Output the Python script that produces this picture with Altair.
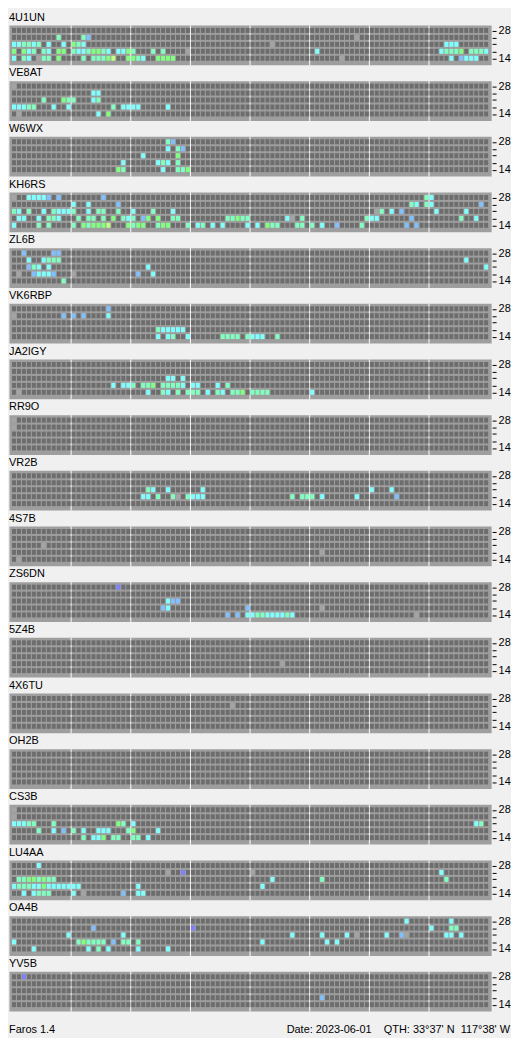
import altair as alt
import pandas as pd

# ---------------- data ----------------
STATIONS = ["4U1UN", "VE8AT", "W6WX", "KH6RS", "ZL6B", "VK6RBP", "JA2IGY", "RR9O",
            "VR2B", "4S7B", "ZS6DN", "5Z4B", "4X6TU", "OH2B", "CS3B", "LU4AA",
            "OA4B", "YV5B"]
BAND_LABELS = ["28", "", "", "", "14"]          # rows from top to bottom
N_SLOTS = 96                                    # 15-minute slots over 24 h
SEPARATORS = [12, 24, 36, 48, 60, 72, 84]       # 3-hour boundaries

# signal level codes -> colours
LEVELS = ["0", "g", "P", "B", "C", "A", "G", "Y"]
LEVEL_COLORS = ["#6d6d6d", "#a4a4a4", "#8080ff", "#80c0ff", "#80ffff",
                "#80ffc0", "#80ff80", "#c0ff80"]

# each station: rows 28, 24, 21, 18, 14 MHz ; tokens "slot+level"
S_4U1UN = [
    "",
    "9A 14A 15B 69g",
    "0C 1C 2A 3A 4C 5A 7C 10C 12G 13A 14C 52g 87C 88C 89C",
    "0G 2G 3C 4A 6A 7C 9G 10G 12A 13C 14C 15A 16G 17G 18A 19C 21C 22C 23G 24A 28A 30A 35g 61C 86C 87A 88A 89A 90G 92A 93A 94A 95C",
    "0C 2A 3C 5g 6A 7A 9G 14A 16A 17A 18A 19G 20Y 23G 24G 25A 26C 29G 30G 31G 32G 66g 88C 90B 91C 92C 93C",
]
S_VE8AT = [
    "0g",
    "16C 17C",
    "6A 10G 11A 12A 16C 17A",
    "0C 1C 2C 3A 4A 8C 11C 20A 22C 23C 24C 25C 31C",
    "1g 17C 19G",
]
S_W6WX = [
    "31A 32B",
    "31C 33A 34B",
    "26C 33G",
    "22C 29C 30A 31C 33A",
    "21G 22A 30C 33A 34A 35G",
]
S_KH6RS = [
    "0g 3C 4C 5C 6C 7B 9B 18B 83A 84C",
    "12C 15C 21B 80A 81C 83A 84C 94B",
    "0A 1C 3A 6C 8A 9C 10C 11C 12A 15C 17A 18A 21A 24C 28A 32C 73g 74A 76C 78B 85C 91C",
    "1C 2C 5C 7A 8A 9C 13A 15A 16A 18A 20G 22A 23C 24A 26B 27G 29G 32A 33A 43A 44A 45G 46A 47A 55C 56g 58A 71A 72C 73C 80B 90A 93C",
    "0C 5A 7A 12A 14G 15A 16G 17G 18G 19Y 23G 24A 25G 26G 29A 30G 31G 35A 37C 38A 40C 42C 47C 49C 51G 52A 53A 57A 58A 60A 62C 65B 70A 79B 81B",
]
S_ZL6B = [
    "2B 8B 9B",
    "3C 6C 7A 8A 9A 91C",
    "3B 4A 5C 7C 27C 95C",
    "1g 4B 5C 6C 7C 8B 12g 25B 28C",
    "10A",
]
S_VK6RBP = [
    "19B",
    "0g 10B 12B 14B 19C",
    "",
    "29A 30C 31C 32C 33C 34C",
    "29C 31C 32A 35C 42A 43A 44A 45A 47A 48C 49C 50C 53A",
]
S_JA2IGY = [
    "",
    "",
    "31C 32C 34C",
    "20C 22C 23C 24A 26A 27A 28G 30A 31A 32A 33A 34C 36C 37C 41C 43A",
    "1g 27C 30A 31C 33A 35A 36A 37A 39C 41A 42C 44A 45A 46G 48A 49A 50A 51A 60C",
]
S_RR9O = ["0g", "0g", "", "", ""]
S_VR2B = [
    "",
    "",
    "27A 28C 31C 38C 72C 76C",
    "26C 27C 29A 32A 33g 35A 36C 37C 38C 56A 58A 59A 60A 62C 69C 77B",
    "",
]
S_4S7B = ["", "", "6g", "62g", "1g"]
S_ZS6DN = [
    "21P",
    "",
    "31C 32B 33B",
    "30B 31C 47B 62g",
    "43B 45B 47C 48C 49A 50A 51C 52C 53C 54C 55A 56C 81g",
]
S_5Z4B = ["", "", "", "54g", ""]
S_4X6TU = ["", "44g", "", "", ""]
S_OH2B = ["", "", "", "", ""]
S_CS3B = [
    "0g",
    "0g",
    "0C 1C 2C 3A 4A 8A 21G 22A 24C 93C 94A",
    "5A 8C 10B 12A 14C 17C 18C 19C 23A 24G 29C",
    "14A 16C 17C 18G 20A 21A 24A 25A 27C",
]
S_LU4AA = [
    "5C",
    "31g 34P 48g 86C",
    "1A 2A 3G 4G 5A 6G 7A 8A 52C 62A 87A",
    "0C 1A 2A 3A 4C 5C 6G 7C 8C 9C 10C 11C 12C 13C 25C 50C",
    "2C 4C 5A 6A 7A 12C 14g 22B 25C 26C",
]
S_OA4B = [
    "79C 88C",
    "16B 36P 84C 88A 89A",
    "11C 22C 56C 62C 67C 69g 75C 78B 79g 87C 88C 90C",
    "0C 13A 14G 15A 16A 17A 18A 20B 22A 23A 25A 50C 63C 65C",
    "4C 15C 17A 19C 25C 31C",
]
S_YV5B = ["2P", "", "", "62B", ""]

STATION_ROWS = [S_4U1UN, S_VE8AT, S_W6WX, S_KH6RS, S_ZL6B, S_VK6RBP, S_JA2IGY,
                S_RR9O, S_VR2B, S_4S7B, S_ZS6DN, S_5Z4B, S_4X6TU, S_OH2B,
                S_CS3B, S_LU4AA, S_OA4B, S_YV5B]

FOOTER_LEFT = "Faros 1.4"
FOOTER_RIGHT = "Date: 2023-06-01\u00a0\u00a0\u00a0\u00a0QTH: 33°37' N\u00a0\u00a0117°38' W"

# ---------------- table ----------------
records = []
for name, rows in zip(STATION_ROWS and STATIONS, STATION_ROWS):
    for r, spec in enumerate(rows):
        marks = {int(t[:-1]): t[-1] for t in spec.split()}
        band = 4 - r  # 0 = 14 MHz (bottom) ... 4 = 28 MHz (top)
        for k in range(N_SLOTS):
            records.append({"station": name, "slot": k, "band": band,
                            "level": marks.get(k, "0")})
df = pd.DataFrame(records)

FONT = "Liberation Sans"
CELL_W = 0.8          # fraction of a slot covered by a cell
CELL_H = 5 / 7        # fraction of a band covered by a cell

x_scale = alt.Scale(domain=[-0.6, N_SLOTS + 0.4], nice=False, zero=False)
y_scale = alt.Scale(domain=[-4 / 7, 36 / 7], nice=False, zero=False)

label_expr = "datum.value > 4 ? '28' : (datum.value < 1 ? '14' : '')"


def panel(name):
    return (
        alt.Chart(df)
        .transform_filter(alt.datum.station == name)
        .transform_calculate(x2=f"datum.slot + {CELL_W}", y2=f"datum.band + {CELL_H}")
        .mark_rect()
        .encode(
            x=alt.X("slot:Q", scale=x_scale,
                    axis=alt.Axis(values=[s - 0.2 for s in SEPARATORS], grid=True,
                                  gridColor="#ffffff", gridWidth=1, gridOpacity=1,
                                  labels=False, ticks=False, domain=False, title=None)),
            x2="x2:Q",
            y=alt.Y("band:Q", scale=y_scale,
                    axis=alt.Axis(orient="right", values=[b + CELL_H / 2 for b in range(5)],
                                  labelExpr=label_expr, grid=False, domain=False,
                                  tickSize=4, tickColor="#000000", tickWidth=1,
                                  offset=1, labelPadding=2, labelFontSize=11,
                                  labelFont=FONT, labelColor="#000000",
                                  labelOverlap=False, labelFlush=False, title=None)),
            y2="y2:Q",
            color=alt.Color("level:N", scale=alt.Scale(domain=LEVELS, range=LEVEL_COLORS),
                            legend=None),
        )
        .properties(
            width=485, height=40,
            title=alt.TitleParams(name, anchor="start", fontSize=11, font=FONT,
                                  fontWeight="normal", color="#000000", offset=2),
        )
    )


footer_df = pd.DataFrame({"left": [FOOTER_LEFT], "right": [FOOTER_RIGHT]})
footer_left = alt.Chart(footer_df).mark_text(
    align="left", baseline="middle", fontSize=11, font=FONT, color="#000000"
).encode(text="left:N", x=alt.value(0), y=alt.value(7))
footer_right = alt.Chart(footer_df).mark_text(
    align="right", baseline="middle", fontSize=11, font=FONT, color="#000000"
).encode(text="right:N", x=alt.value(504), y=alt.value(7))
footer = alt.layer(footer_left, footer_right).properties(
    width=504, height=14,
    view=alt.ViewBackground(fill="#f0f0f0", stroke="transparent"),
)

panels = alt.vconcat(*[panel(n) for n in STATIONS], spacing=1)
chart = (
    alt.vconcat(panels, footer, spacing=10)
    .properties(padding=0, background="#f0f0f0")
    .configure_view(fill="#9e9e9e", stroke="transparent")
)

chart.save("out.html", embed_options={"renderer": "svg", "actions": False})
